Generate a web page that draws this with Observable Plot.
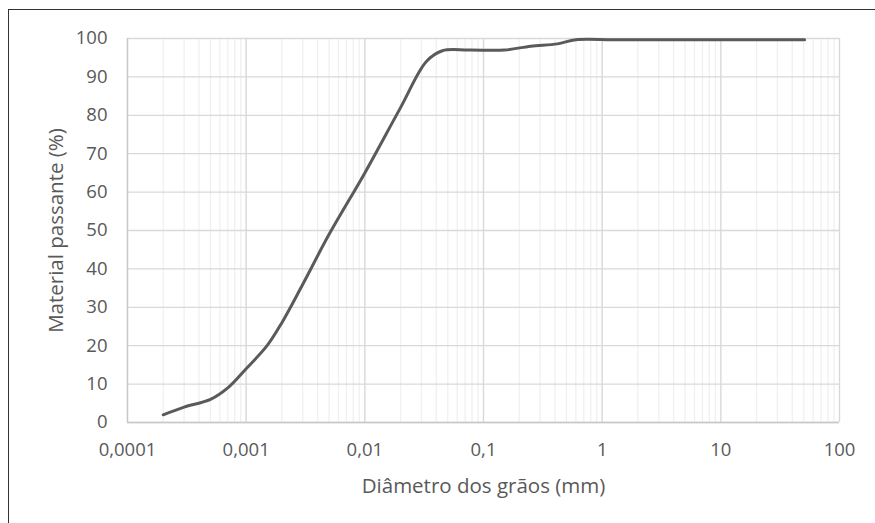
<!DOCTYPE html>
<html>
<head>
<meta charset="utf-8">
<script src="https://cdn.jsdelivr.net/npm/d3@7"></script>
<script src="https://cdn.jsdelivr.net/npm/@observablehq/plot@0.6"></script>
<style>
  html, body { margin: 0; padding: 0; background: #fff; overflow: hidden; }
  #wrap { position: relative; width: 875px; height: 523px; }
  #frame { position: absolute; left: 8px; top: 9px; width: 900px; height: 600px;
           border: 1.5px solid #333; pointer-events: none; }
</style>
</head>
<body>
<div id="wrap"><div id="frame"></div></div>
<script>
// Grain size (mm) and percent passing
const diameters = [0.0002, 0.0003, 0.0005, 0.0007, 0.001, 0.0015, 0.002, 0.003, 0.005, 0.01, 0.02, 0.033, 0.045, 0.075, 0.15, 0.25, 0.42, 0.6, 1.2, 2.0, 4.8, 9.5, 19.1, 50.8];
const passing   = [2,      4,      6,      9,      14,    20,     26,    36,    49,    65,   82,   94,    96.8,  97,    97,   98,   98.6, 99.7, 99.7, 99.7, 99.7, 99.7, 99.7, 99.7];
const xTicks = [0.0001, 0.001, 0.01, 0.1, 1, 10, 100];
const xTickLabels = ["0,0001", "0,001", "0,01", "0,1", "1", "10", "100"];
const yTicks = [0, 10, 20, 30, 40, 50, 60, 70, 80, 90, 100];
const xTitle = "Diâmetro dos grãos (mm)";
const yTitle = "Material passante (%)";

const data = diameters.map((d, i) => ({d, p: passing[i]}));
const labelOf = new Map(xTicks.map((t, i) => [t, xTickLabels[i]]));
const textColor = "#595959";
const font = "Open Sans";

const chart = Plot.plot({
  width: 875,
  height: 523,
  marginLeft: 127,
  marginRight: 36,
  marginTop: 38,
  marginBottom: 101,
  style: {fontFamily: font, fontSize: "18px", color: textColor, background: "transparent"},
  x: {type: "log", domain: [0.0001, 100]},
  y: {domain: [0, 100]},
  marks: [
    Plot.gridX({ticks: 10, stroke: "#f0f0f0", strokeOpacity: 1, strokeWidth: 1.3}),
    Plot.gridX(xTicks, {stroke: "#d9d9d9", strokeOpacity: 1, strokeWidth: 1.3}),
    Plot.gridY(yTicks, {stroke: "#d9d9d9", strokeOpacity: 1, strokeWidth: 1.3}),
    Plot.ruleX([0.0001], {stroke: "#c8c8c8", strokeWidth: 1.3}),
    Plot.ruleY([0], {stroke: "#c8c8c8", strokeWidth: 1.3}),
    Plot.axisX(xTicks, {tickSize: 0, tickPadding: 20, tickFormat: t => labelOf.get(t), fill: textColor, fontSize: 18.5, label: null}),
    Plot.axisY(yTicks, {tickSize: 0, tickPadding: 20, fill: textColor, fontSize: 18.5, label: null}),
    Plot.line(data, {x: "d", y: "p", stroke: "#5a5a5a", strokeWidth: 3, curve: "catmull-rom"}),
    Plot.text([xTitle], {frameAnchor: "bottom", dy: 70, fill: textColor, fontSize: 20.5}),
    Plot.text([yTitle], {frameAnchor: "left", textAnchor: "middle", rotate: -90, dx: -71, fill: textColor, fontSize: 20.5})
  ]
});
document.getElementById("wrap").prepend(chart);
</script>
</body>
</html>
